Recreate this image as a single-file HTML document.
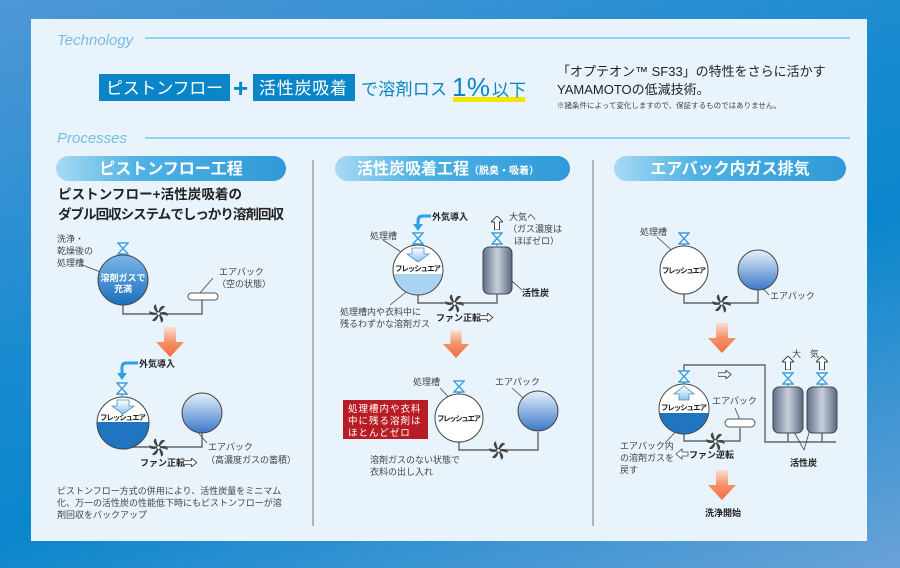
<!DOCTYPE html>
<html><head><meta charset="utf-8"><style>
html,body{margin:0;padding:0;width:900px;height:568px;overflow:hidden}
body{background:linear-gradient(160deg,#4f97d6 0%,#1a8bd0 40%,#0a86cc 60%,#6aa2d8 100%)}
svg{position:absolute;left:0;top:0}
text{font-family:"Liberation Sans","Noto Sans CJK JP",sans-serif}
</style></head><body>
<svg width="900" height="568" viewBox="0 0 900 568">
<defs>
<linearGradient id="pill" x1="0" x2="1"><stop offset="0" stop-color="#a8daf4"/><stop offset="0.35" stop-color="#4fb2e4"/><stop offset="1" stop-color="#2f9ad8"/></linearGradient>
<linearGradient id="tankb" x1="0" y1="0" x2="0" y2="1"><stop offset="0" stop-color="#7ab6e6"/><stop offset="1" stop-color="#1a6fbf"/></linearGradient>
<linearGradient id="ball" x1="0" y1="0" x2="0" y2="1"><stop offset="0" stop-color="#e6f0fa"/><stop offset="1" stop-color="#3a78c8"/></linearGradient>
<linearGradient id="cyl" x1="0" x2="1"><stop offset="0" stop-color="#5f6f86"/><stop offset="0.5" stop-color="#c8d0dc"/><stop offset="1" stop-color="#5a6880"/></linearGradient>
<linearGradient id="oar" x1="0" y1="0" x2="0" y2="1"><stop offset="0" stop-color="#fbe0d4"/><stop offset="0.5" stop-color="#f59068"/><stop offset="1" stop-color="#ef6e40"/></linearGradient>
<linearGradient id="inar" x1="0" y1="0" x2="0" y2="1"><stop offset="0" stop-color="#ffffff"/><stop offset="1" stop-color="#8ec4ec"/></linearGradient>
<symbol id="fan" viewBox="-10 -10 20 20"><g fill="#444">
<path id="bl" d="M0,0 C0,-6 4,-10 7,-7 C5,-6 3,-3 0,0 Z"/>
<path d="M0,0 C0,-6 4,-10 7,-7 C5,-6 3,-3 0,0 Z" transform="rotate(60)"/><path d="M0,0 C0,-6 4,-10 7,-7 C5,-6 3,-3 0,0 Z" transform="rotate(120)"/><path d="M0,0 C0,-6 4,-10 7,-7 C5,-6 3,-3 0,0 Z" transform="rotate(180)"/><path d="M0,0 C0,-6 4,-10 7,-7 C5,-6 3,-3 0,0 Z" transform="rotate(240)"/><path d="M0,0 C0,-6 4,-10 7,-7 C5,-6 3,-3 0,0 Z" transform="rotate(300)"/><circle r="2" fill="#fff" stroke="#444"/></g></symbol>
<symbol id="valve" viewBox="0 0 12 14"><path d="M1,1 L11,1 L1,12 L11,12 Z" fill="#fff" stroke="#3aa0e0" stroke-width="1.4"/><line x1="6" y1="12" x2="6" y2="14" stroke="#3aa0e0" stroke-width="1.4"/></symbol>
<symbol id="oarrow" viewBox="0 0 30 30"><path d="M9,0 H21 V15 H29 L15,30 L1,15 H9 Z" fill="url(#oar)"/></symbol>
<symbol id="uparr" viewBox="0 0 12 14"><path d="M6,0 L12,6 H8.5 V14 H3.5 V6 H0 Z" fill="#fff" stroke="#444" stroke-width="1"/></symbol>
<symbol id="rarr" viewBox="0 0 16 10"><path d="M0,3 H9 V0 L15,5 L9,10 V7 H0 Z" fill="#fff" stroke="#444" stroke-width="1"/></symbol>
</defs>
<rect x="31" y="19" width="836" height="522" fill="#e9f3fc"/>
<text x="57" y="45" font-size="15" font-style="italic" fill="#76bde6">Technology</text>
<line x1="145" y1="38" x2="850" y2="38" stroke="#8fd2f2" stroke-width="2"/>
<text x="57" y="143" font-size="15" font-style="italic" fill="#76bde6">Processes</text>
<line x1="145" y1="138" x2="850" y2="138" stroke="#8fd2f2" stroke-width="2"/>
<rect x="99" y="74" width="131" height="27" fill="#0a86c8"/>
<text x="106" y="94" font-size="17" fill="#fff" textLength="117">ピストンフロー</text>
<text x="233" y="97" font-size="26" font-weight="bold" fill="#0a86c8">+</text>
<rect x="253" y="74" width="102" height="27" fill="#0a86c8"/>
<text x="259" y="94" font-size="17" fill="#fff" textLength="88">活性炭吸着</text>
<text x="361" y="95" font-size="17" fill="#0a86c8" textLength="86">で溶剤ロス</text>
<rect x="453" y="97" width="72" height="5" fill="#f2e600"/>
<text x="452" y="96" font-size="26" fill="#0a86c8" textLength="38">1%</text>
<text x="492" y="96" font-size="17" fill="#0a86c8">以下</text>
<text x="557" y="76" font-size="13" fill="#222">「オプテオン™ SF33」の特性をさらに活かす</text>
<text x="557" y="94" font-size="13" fill="#222">YAMAMOTOの低減技術。</text>
<text x="557" y="108" font-size="7.5" fill="#444">※諸条件によって変化しますので、保証するものではありません。</text>
<rect x="56" y="156" width="230" height="25" rx="12.5" fill="url(#pill)"/>
<text x="171" y="174" font-size="16" font-weight="bold" fill="#fff" text-anchor="middle">ピストンフロー工程</text>
<rect x="335" y="156" width="235" height="25" rx="12.5" fill="url(#pill)"/>
<text x="357" y="174" font-size="16" font-weight="bold" fill="#fff">活性炭吸着工程<tspan font-size="10">（脱臭・吸着）</tspan></text>
<rect x="614" y="156" width="232" height="25" rx="12.5" fill="url(#pill)"/>
<text x="730" y="174" font-size="16" font-weight="bold" fill="#fff" text-anchor="middle">エアバック内ガス排気</text>
<line x1="313" y1="160" x2="313" y2="526" stroke="#777" stroke-width="1"/>
<line x1="593" y1="160" x2="593" y2="526" stroke="#777" stroke-width="1"/>
<g stroke="#666" stroke-width="1.4" fill="none">
<path d="M123,305 V314 H202 V298"/>
<path d="M123,449 V447 H202 V433"/>
<path d="M418,295 V303 H497 V294"/>
<path d="M459,442 V450 H538 V432"/>
<path d="M684,294 V303 H758 V290"/>
<path d="M684,434 V441 H740 V428"/>
<path d="M684,375 V365 H765 V442 H836"/>
<path d="M788,432 V442 M822,432 V442"/>
</g>
<g font-size="9" fill="#444">
<text x="57" y="242">洗浄・</text><text x="57" y="254">乾燥後の</text><text x="57" y="266">処理槽</text>
<text x="219" y="275">エアパック</text><text x="217" y="287">（空の状態）</text>
<text x="208" y="450">エアパック</text><text x="206" y="463">（高濃度ガスの蓄積）</text>
<text x="57" y="494">ピストンフロー方式の併用により、活性炭量をミニマム</text>
<text x="57" y="506">化、万一の活性炭の性能低下時にもピストンフローが溶</text>
<text x="57" y="518">剤回収をバックアップ</text>
<text x="370" y="239">処理槽</text>
<text x="509" y="220">大気へ</text><text x="508" y="232">（ガス濃度は</text><text x="514" y="244">ほぼゼロ）</text>
<text x="340" y="315">処理槽内や衣料中に</text><text x="340" y="327">残るわずかな溶剤ガス</text>
<text x="413" y="385">処理槽</text><text x="495" y="385">エアパック</text>
<text x="370" y="463">溶剤ガスのない状態で</text><text x="370" y="475">衣料の出し入れ</text>
<text x="640" y="235">処理槽</text>
<text x="770" y="299">エアパック</text>
<text x="712" y="404">エアパック</text>
<text x="620" y="449">エアパック内</text><text x="620" y="461">の溶剤ガスを</text><text x="620" y="473">戻す</text>
<text x="792" y="357">大</text><text x="810" y="357">気</text>
</g>
<g stroke="#444" stroke-width="0.8">
<line x1="80" y1="264" x2="108" y2="275"/><line x1="213" y1="278" x2="200" y2="293"/>
<line x1="207" y1="443" x2="196" y2="430"/>
<line x1="383" y1="240" x2="410" y2="258"/><line x1="390" y1="305" x2="415" y2="285"/>
<line x1="502" y1="272" x2="522" y2="290"/>
<line x1="440" y1="388" x2="455" y2="404"/><line x1="512" y1="388" x2="523" y2="398"/>
<line x1="657" y1="237" x2="676" y2="254"/><line x1="769" y1="295" x2="760" y2="285"/>
<line x1="735" y1="408" x2="740" y2="420"/>
<line x1="665" y1="443" x2="682" y2="425"/>
<path d="M783,412 L804,450 L815,412" fill="none"/>
</g>
<g font-size="9" font-weight="bold" fill="#222">
<text x="139" y="367">外気導入</text>
<text x="140" y="466">ファン正転</text>
<text x="432" y="220">外気導入</text>
<text x="522" y="296">活性炭</text>
<text x="436" y="321">ファン正転</text>
<text x="689" y="458">ファン逆転</text>
<text x="790" y="466">活性炭</text>
<text x="705" y="516">洗浄開始</text>
</g>
<use href="#valve" x="117" y="242" width="12" height="14"/>
<circle cx="123" cy="280" r="25" fill="url(#tankb)" stroke="#444" stroke-width="1"/>
<text x="123" y="281" font-size="9" font-weight="bold" fill="#fff" text-anchor="middle">溶剤ガスで</text>
<text x="123" y="292" font-size="9" font-weight="bold" fill="#fff" text-anchor="middle">充満</text>
<rect x="188" y="293" width="30" height="7" rx="3.5" fill="#fff" stroke="#555"/>
<use href="#fan" x="149" y="304" width="19" height="19"/>
<use href="#oarrow" x="155" y="327" width="30" height="30"/>
<path d="M138,363 H126 Q122,363 122,368 V374" fill="none" stroke="#2aa0e6" stroke-width="3"/><path d="M117,373 L122,380 L127,373 Z" fill="#2aa0e6"/>
<use href="#valve" x="116" y="382" width="12" height="14"/>
<clipPath id="c1"><circle cx="123" cy="423" r="26"/></clipPath>
<circle cx="123" cy="423" r="26" fill="#fff"/>
<rect x="96" y="422" width="54" height="30" fill="#1f75c0" clip-path="url(#c1)"/>
<circle cx="123" cy="423" r="26" fill="none" stroke="#444"/>
<path d="M117,400 H129 V406 H134 L123,414 L112,406 H117 Z" fill="url(#inar)" stroke="#4a90c8" stroke-width="0.8"/>
<text x="123" y="420" font-size="7.5" font-weight="bold" fill="#222" text-anchor="middle" textLength="46">フレッシュエア</text>
<circle cx="202" cy="413" r="20" fill="url(#ball)" stroke="#444"/>
<use href="#fan" x="149" y="438" width="19" height="19"/>
<use href="#rarr" x="183" y="458" width="15" height="9"/>
<path d="M431,216 H423 Q418,216 418,221 V225" fill="none" stroke="#2aa0e6" stroke-width="3"/><path d="M413,224 L418,231 L423,224 Z" fill="#2aa0e6"/>
<use href="#valve" x="412" y="232" width="12" height="14"/>
<clipPath id="c2"><circle cx="418" cy="270" r="25"/></clipPath>
<circle cx="418" cy="270" r="25" fill="#fff"/>
<rect x="392" y="274" width="52" height="25" fill="#a9d3f0" clip-path="url(#c2)"/>
<circle cx="418" cy="270" r="25" fill="none" stroke="#444"/>
<path d="M412,248 H424 V254 H429 L418,262 L407,254 H412 Z" fill="url(#inar)" stroke="#4a90c8" stroke-width="0.8"/>
<text x="418" y="271" font-size="7.5" font-weight="bold" fill="#222" text-anchor="middle" textLength="46">フレッシュエア</text>
<rect x="483" y="247" width="29" height="47" rx="6" fill="url(#cyl)" stroke="#444"/>
<use href="#valve" x="491" y="232" width="12" height="14"/>
<use href="#uparr" x="491" y="216" width="12" height="14"/>
<use href="#fan" x="445" y="294" width="19" height="19"/>
<use href="#rarr" x="479" y="313" width="15" height="9"/>
<use href="#oarrow" x="441" y="330" width="30" height="28"/>
<use href="#valve" x="453" y="380" width="12" height="14"/>
<circle cx="459" cy="418" r="24" fill="#fff" stroke="#444"/>
<text x="459" y="421" font-size="7.5" font-weight="bold" fill="#222" text-anchor="middle" textLength="44">フレッシュエア</text>
<circle cx="538" cy="411" r="20" fill="url(#ball)" stroke="#444"/>
<use href="#fan" x="489" y="441" width="19" height="19"/>
<rect x="343" y="400" width="85" height="39" fill="#b81c24"/>
<g font-size="9.5" fill="#fff"><text x="348" y="412" letter-spacing="1">処理槽内や衣料</text><text x="348" y="424" letter-spacing="1">中に残る溶剤は</text><text x="348" y="436" letter-spacing="1">ほとんどゼロ</text></g>
<use href="#valve" x="678" y="232" width="12" height="14"/>
<circle cx="684" cy="270" r="24" fill="#fff" stroke="#444"/>
<text x="684" y="273" font-size="7.5" font-weight="bold" fill="#222" text-anchor="middle" textLength="44">フレッシュエア</text>
<circle cx="758" cy="270" r="20" fill="url(#ball)" stroke="#444"/>
<use href="#fan" x="712" y="294" width="19" height="19"/>
<use href="#oarrow" x="707" y="323" width="30" height="30"/>
<use href="#valve" x="678" y="370" width="12" height="14"/>
<clipPath id="c3"><circle cx="684" cy="409" r="25"/></clipPath>
<circle cx="684" cy="409" r="25" fill="#fff"/>
<rect x="658" y="413" width="52" height="25" fill="#1f75c0" clip-path="url(#c3)"/>
<circle cx="684" cy="409" r="25" fill="none" stroke="#444"/>
<path d="M684,386 L694,394 H689 V400 H679 V394 H674 Z" fill="url(#inar)" stroke="#4a90c8" stroke-width="0.8"/>
<text x="684" y="410" font-size="7.5" font-weight="bold" fill="#222" text-anchor="middle" textLength="46">フレッシュエア</text>
<use href="#rarr" x="718" y="370" width="14" height="9"/>
<rect x="725" y="419" width="30" height="8" rx="4" fill="#fff" stroke="#555"/>
<use href="#fan" x="706" y="432" width="19" height="19"/>
<path d="M676,454 L682,449 V452 H688 V456 H682 V459 Z" fill="#fff" stroke="#444" stroke-width="0.8"/>
<rect x="773" y="387" width="30" height="46" rx="6" fill="url(#cyl)" stroke="#444"/>
<rect x="807" y="387" width="30" height="46" rx="6" fill="url(#cyl)" stroke="#444"/>
<use href="#valve" x="782" y="372" width="12" height="14"/>
<use href="#valve" x="816" y="372" width="12" height="14"/>
<use href="#uparr" x="782" y="356" width="12" height="14"/>
<use href="#uparr" x="816" y="356" width="12" height="14"/>
<use href="#oarrow" x="707" y="470" width="30" height="30"/>
<g font-size="13.5" font-weight="bold" fill="#222">
<text x="58" y="199" textLength="184">ピストンフロー+活性炭吸着の</text>
<text x="58" y="219" textLength="226">ダブル回収システムでしっかり溶剤回収</text>
</g>
</svg>
</body></html>
